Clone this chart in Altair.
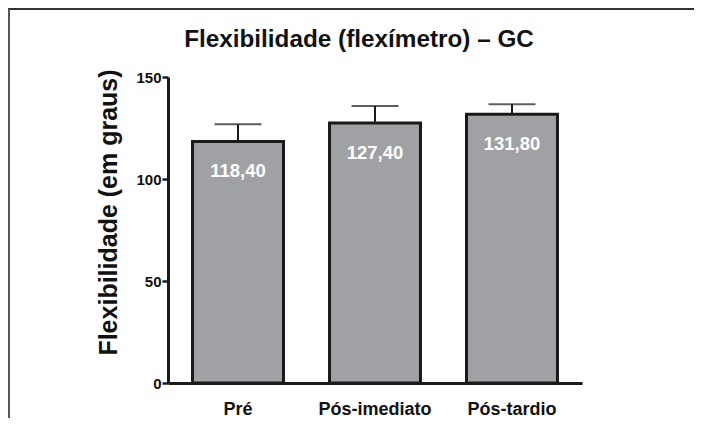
import altair as alt
import pandas as pd

categories = ["Pré", "Pós-imediato", "Pós-tardio"]
means = [118.40, 127.40, 131.80]
errors = [8.4, 8.4, 4.8]
value_labels = ["118,40", "127,40", "131,80"]
y_ticks = [0, 50, 100, 150]
chart_title = "Flexibilidade (flexímetro) – GC"

df = pd.DataFrame({
    "cat": categories,
    "mean": means,
    "upper": [m + e for m, e in zip(means, errors)],
    "label": value_labels,
})

W, H = 414, 306
FONT = "Liberation Sans, Arial, Helvetica, sans-serif"

xenc = alt.X("cat:N", sort=categories, title=None,
             scale=alt.Scale(paddingInner=0.336, paddingOuter=0.179),
             axis=alt.Axis(labelAngle=0, labelFont=FONT, labelFontWeight="bold",
                           labelFontSize=18, labelColor="#111", labelPadding=17,
                           ticks=False, domainColor="#1a1a1a", domainWidth=3))
yscale = alt.Scale(domain=[0, 150], nice=False)

base = alt.Chart(df)

bars = base.mark_bar(color="#a0a1a4", stroke="#1a1a1a", strokeWidth=3).encode(
    x=xenc,
    y=alt.Y("mean:Q", scale=yscale, title="Flexibilidade (em graus)",
            axis=alt.Axis(values=y_ticks, grid=False, labelFont=FONT,
                          labelFontWeight="bold", labelFontSize=15, labelColor="#111",
                          tickSize=6, tickWidth=2.5, tickColor="#1a1a1a",
                          labelPadding=1, domainColor="#1a1a1a", domainWidth=3,
                          titleFont=FONT, titleFontWeight="bold", titleFontSize=25,
                          titleColor="#111", titlePadding=14, titleY=135)),
)

err = base.mark_rule(color="#1a1a1a", strokeWidth=2).encode(
    x=alt.X("cat:N", sort=categories),
    y=alt.Y("mean:Q", scale=yscale),
    y2="upper:Q",
)

caps = base.mark_tick(color="#1a1a1a", thickness=2, size=47, orient="horizontal").encode(
    x=alt.X("cat:N", sort=categories),
    y=alt.Y("upper:Q", scale=yscale),
)

texts = base.mark_text(color="white", font=FONT, fontWeight="bold", fontSize=18.5,
                       baseline="middle", dy=30).encode(
    x=alt.X("cat:N", sort=categories),
    y=alt.Y("mean:Q", scale=yscale),
    text="label:N",
)

one = pd.DataFrame({"t": [chart_title]})

title_mark = alt.Chart(one).mark_text(
    font=FONT, fontSize=24.3, fontWeight="bold", color="#111",
    align="center", baseline="alphabetic", clip=False).encode(
    x=alt.value(W / 2 - 16), y=alt.value(-30), text="t:N")

frame_top = alt.Chart(one).mark_rule(
    color="#333", strokeWidth=2, clip=False).encode(
    x=alt.value(-160), x2=alt.value(W + 112), y=alt.value(-68))
frame_left = alt.Chart(one).mark_rule(
    color="#555", strokeWidth=2, clip=False).encode(
    x=alt.value(-159), y=alt.value(-68), y2=alt.value(H + 35))

chart = alt.layer(bars, err, caps, texts, title_mark, frame_top, frame_left).properties(
    width=W, height=H,
    autosize=alt.AutoSizeParams(type="none"),
    padding={"left": 160, "top": 69, "right": 112, "bottom": 35},
).configure(background="white").configure_view(strokeWidth=0, stroke="transparent")

chart.save("out.html", embed_options={"renderer": "svg", "actions": False})
